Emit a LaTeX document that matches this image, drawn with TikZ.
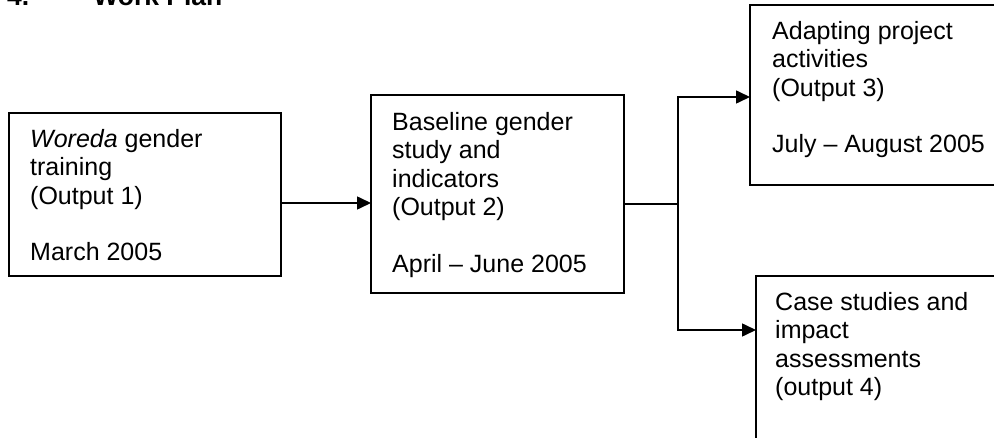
\documentclass[tikz,border=0pt]{standalone}
\usepackage{fontspec}
\setmainfont{Liberation Sans}
\usetikzlibrary{arrows.meta,calc}
\begin{document}
\begin{tikzpicture}[x=1pt,y=-1pt,
  box/.style={draw, line width=1.6pt, rectangle, anchor=north west, inner sep=0pt, outer sep=0pt},
  txt/.style={anchor=north west, inner sep=0pt, align=left, font=\fontsize{25}{28.4}\selectfont},
  arr/.style={line width=1.6pt, -{Triangle[length=14pt,width=13pt]}},
  ln/.style={line width=1.6pt}]
\useasboundingbox (0,0) rectangle (994,438);
\clip (0,0) rectangle (994,438);
% title
\node[anchor=base west, inner sep=0pt, font=\bfseries\fontsize{26.5}{30}\selectfont] (title) at (7,6) {4.\hspace{64pt}Work Plan};
% boxes
\node[box, minimum width=272pt, minimum height=163pt] (b1) at (9,113) {};
\node[box, minimum width=253pt, minimum height=198pt] (b2) at (371,95) {};
\node[box, minimum width=300pt, minimum height=180pt] (b3) at (750,5) {};
\node[box, minimum width=300pt, minimum height=220pt] (b4) at (756,276) {};
% texts
\node[txt] (t1) at (30,129) {\textit{Woreda} gender\\training\\(Output 1)\\[28.4pt]March 2005};
\node[txt] (t2) at (392,112) {Baseline gender\\study and\\indicators\\(Output 2)\\[28.4pt]April -- June 2005};
\node[txt] (t3) at (772,21) {Adapting project\\activities\\(Output 3)\\[28.4pt]July -- August 2005};
\node[txt] (t4) at (775,292) {Case studies and\\impact\\assessments\\(output 4)};
% connectors
\coordinate (a1) at (0,203);
\draw[arr] (b1.east |- a1) -- (b2.west |- a1);
\coordinate (j) at (678,204);
\coordinate (j3) at (678,97);
\coordinate (j4) at (678,330);
\draw[ln] (b2.east |- j) -- (j);
\draw[arr] (j) -- (j3) -- (b3.west |- j3);
\draw[arr] (j) -- (j4) -- (b4.west |- j4);
\end{tikzpicture}
\end{document}
